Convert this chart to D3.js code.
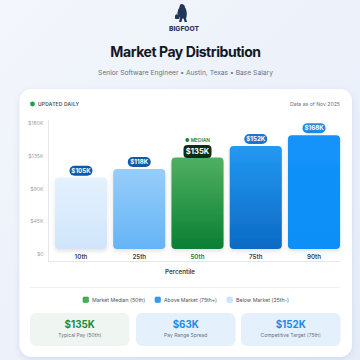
<!DOCTYPE html>
<html>
<head>
<meta charset="utf-8">
<script src="https://cdn.jsdelivr.net/npm/d3@7/dist/d3.min.js"></script>
<style>
  html, body { margin: 0; padding: 0; }
  body { width: 360px; height: 360px; overflow: hidden; font-family: Inter, "Noto Sans", sans-serif; }
</style>
</head>
<body>
<svg id="chart" width="360" height="360"></svg>
<script>
  'use strict';

  // chart data
  var percentiles = ['10th', '25th', '50th', '75th', '90th'];
  var salaries = [105, 118, 135, 152, 168];           // $K
  var yTicks = [0, 45, 90, 135, 180];
  var legendLabels = ['Market Median (50th)', 'Above Market (75th+)', 'Below Market (25th-)'];
  var cardValues = ['$135K', '$63K', '$152K'];
  var cardLabels = ['Typical Pay (50th)', 'Pay Range Spread', 'Competitive Target (75th)'];

  var svg = d3.select('#chart');
  var defs = svg.append('defs');

  // shrink/grow a text node's font so it spans the given width
  function fitWidth(sel, w) {
    sel.each(function() {
      var fs = parseFloat(this.getAttribute('font-size'));
      var len = this.getComputedTextLength();
      if (len > 0) this.setAttribute('font-size', (fs * w / len).toFixed(2));
    });
    return sel;
  }

  // page background
  var bg = defs.append('linearGradient').attr('id', 'bg').attr('x1', 0).attr('x2', 1).attr('y1', 0).attr('y2', 1);
  bg.append('stop').attr('offset', '0%').attr('stop-color', '#f3f6fc');
  bg.append('stop').attr('offset', '100%').attr('stop-color', '#e6edf8');
  svg.append('rect').attr('width', 360).attr('height', 360).attr('fill', 'url(#bg)');

  var shadow = defs.append('filter').attr('id', 'shadow').attr('x', '-10%').attr('y', '-10%').attr('width', '120%').attr('height', '120%');
  shadow.append('feDropShadow').attr('dx', 0).attr('dy', 2).attr('stdDeviation', 3).attr('flood-color', '#5b7bb0').attr('flood-opacity', 0.18);

  var barShadow = defs.append('filter').attr('id', 'barShadow').attr('x', '-20%').attr('y', '-10%').attr('width', '140%').attr('height', '130%');
  barShadow.append('feDropShadow').attr('dx', 0).attr('dy', 2).attr('stdDeviation', 2).attr('flood-color', '#000').attr('flood-opacity', 0.12);

  // bar gradients (top -> bottom)
  var barColors = [
    ['#e4f1fd', '#cfe5fb'],
    ['#97cdfa', '#64b4f6'],
    ['#4fb061', '#0a7f34'],
    ['#2399f2', '#0c6ac4'],
    ['#1493fb', '#0a8ff7']
  ];
  var pillColors = ['#0d5aa6', '#0d5aa6', '#0b2d14', '#1a76d0', '#1e8ae8'];
  barColors.forEach(function(c, i) {
    var g = defs.append('linearGradient').attr('id', 'bar' + i).attr('x1', 0).attr('x2', 0).attr('y1', 0).attr('y2', 1);
    g.append('stop').attr('offset', '0%').attr('stop-color', c[0]);
    g.append('stop').attr('offset', '100%').attr('stop-color', c[1]);
  });

  var cx = 185.5;

  // header: logo (walking bigfoot with a bag)
  var navy = '#1f3658';
  var logo = svg.append('g').attr('transform', 'translate(175,4)').attr('fill', navy);
  logo.append('path').attr('d',
    'M6.5,0 C8.5,0 10,1.5 10,3.5 C11.2,5 11.8,7.5 11.8,10 C11.8,12 11.3,13.5 11,14.5 L12,18 L9.6,18 L8.8,14.8 ' +
    'L7.4,14.6 L6.4,18 L4,18 L5,13.8 C4.2,13 3.8,12 3.6,11 L2.6,10.2 C2.4,8 3,5.5 4.4,3.6 C4.6,1.5 5.2,0 6.5,0 Z');
  logo.append('rect').attr('x', 0).attr('y', 11).attr('width', 4.4).attr('height', 4).attr('rx', 0.8);
  logo.append('path').attr('d', 'M1,11 C1,9.6 3.4,9.6 3.4,11').attr('fill', 'none').attr('stroke', navy).attr('stroke-width', 0.8);
  fitWidth(svg.append('text').attr('x', 184).attr('y', 31).attr('text-anchor', 'middle')
    .attr('font-size', 6.5).attr('font-weight', 800).attr('fill', navy).text('BIGFOOT'), 30);

  fitWidth(svg.append('text').attr('x', cx).attr('y', 56.5).attr('text-anchor', 'middle')
    .attr('font-size', 15).attr('font-weight', 700).attr('letter-spacing', -0.45).attr('fill', '#111827')
    .text('Market Pay Distribution'), 151);
  fitWidth(svg.append('text').attr('x', cx).attr('y', 74.5).attr('text-anchor', 'middle')
    .attr('font-size', 7.5).attr('fill', '#6b7280')
    .text('Senior Software Engineer \u2022 Austin, Texas \u2022 Base Salary'), 175);

  // main card
  svg.append('rect').attr('x', 19.5).attr('y', 89).attr('width', 332.5).attr('height', 268).attr('rx', 12)
    .attr('fill', '#fff').attr('filter', 'url(#shadow)');

  svg.append('circle').attr('cx', 32.5).attr('cy', 104).attr('r', 2.4).attr('fill', '#16a34a');
  fitWidth(svg.append('text').attr('x', 38).attr('y', 106.2).attr('font-size', 5.6).attr('font-weight', 600)
    .attr('letter-spacing', 0.2).attr('fill', '#4b5563').text('UPDATED DAILY'), 41);
  fitWidth(svg.append('text').attr('x', 340).attr('y', 106.2).attr('text-anchor', 'end').attr('font-size', 5.8)
    .attr('fill', '#6b7280').text('Data as of Nov 2025'), 50);

  // scales
  var x = d3.scaleBand().domain(percentiles).range([52, 343]).paddingInner(0.105).paddingOuter(0.05);
  var y = d3.scaleLinear().domain([0, 180]).range([249, 127]);
  var yLabel = d3.scaleLinear().domain([0, 180]).range([254, 123]);

  // axes
  var yAxis = svg.append('g').attr('transform', 'translate(43.5,0)')
    .call(d3.axisLeft(yLabel).tickValues(yTicks).tickSize(0).tickPadding(0)
      .tickFormat(function(d) { return d === 0 ? '$0' : '$' + d + 'K'; }));
  yAxis.select('.domain').remove();
  yAxis.selectAll('text').attr('font-size', 5.2).attr('fill', '#9ca3af').attr('font-family', 'Inter, sans-serif');

  svg.append('line').attr('x1', 48.5).attr('x2', 48.5).attr('y1', 120).attr('y2', 261).attr('stroke', '#e5e7eb').attr('stroke-width', 1);
  svg.append('line').attr('x1', 48).attr('x2', 340).attr('y1', 261.5).attr('y2', 261.5).attr('stroke', '#e5e7eb').attr('stroke-width', 1);

  var xAxis = svg.append('g').attr('transform', 'translate(0,254.5)')
    .call(d3.axisBottom(x).tickSize(0).tickPadding(0));
  xAxis.select('.domain').remove();
  xAxis.selectAll('text').attr('font-size', 6.2).attr('font-weight', 600).attr('font-family', 'Inter, sans-serif')
    .attr('fill', function(d) { return d === '50th' ? '#15803d' : '#374151'; });

  svg.append('text').attr('x', 180).attr('y', 274).attr('text-anchor', 'middle').attr('font-size', 6.2)
    .attr('font-weight', 600).attr('fill', '#374151').text('Percentile');

  // bars
  var data = percentiles.map(function(p, i) { return { p: p, v: salaries[i], i: i }; });

  svg.append('g').selectAll('rect').data(data).join('rect')
    .attr('x', function(d) { return x(d.p); })
    .attr('y', function(d) { return y(d.v); })
    .attr('width', x.bandwidth())
    .attr('height', function(d) { return y(0) - y(d.v); })
    .attr('rx', 4)
    .attr('fill', function(d) { return 'url(#bar' + d.i + ')'; })
    .attr('filter', 'url(#barShadow)');

  // value pills
  var pills = svg.append('g').selectAll('g').data(data).join('g')
    .attr('transform', function(d) {
      var off = d.p === '50th' ? 6 : 7;
      return 'translate(' + (x(d.p) + x.bandwidth() / 2) + ',' + (y(d.v) - off) + ')';
    });
  pills.append('rect')
    .attr('x', function(d) { return d.p === '50th' ? -14 : -11.5; })
    .attr('y', function(d) { return d.p === '50th' ? -6.5 : -5; })
    .attr('width', function(d) { return d.p === '50th' ? 28 : 23; })
    .attr('height', function(d) { return d.p === '50th' ? 13 : 10; })
    .attr('rx', function(d) { return d.p === '50th' ? 4 : 5; })
    .attr('fill', function(d) { return pillColors[d.i]; });
  pills.append('text').attr('text-anchor', 'middle')
    .attr('y', function(d) { return d.p === '50th' ? 2.8 : 2.2; })
    .attr('font-size', function(d) { return d.p === '50th' ? 7.6 : 6.2; })
    .attr('font-weight', 700).attr('fill', '#fff')
    .text(function(d) { return '$' + d.v + 'K'; });

  var med = data[2];
  svg.append('text').attr('x', x(med.p) + x.bandwidth() / 2).attr('y', y(med.v) - 15.5)
    .attr('text-anchor', 'middle').attr('font-size', 4.8).attr('font-weight', 600).attr('fill', '#15803d')
    .text('\u25CF MEDIAN');

  // separator + legend
  svg.append('line').attr('x1', 30).attr('x2', 340).attr('y1', 287.5).attr('y2', 287.5).attr('stroke', '#eef0f3');

  var legendSwatch = [['#4caf50', '#1b8a3a'], ['#2aa0f8', '#1c86e6'], ['#cde6fd', '#b9dcfb']];
  var legendX = [83, 155, 227];
  var leg = svg.append('g').selectAll('g').data(legendLabels).join('g')
    .attr('transform', function(d, i) { return 'translate(' + legendX[i] + ',297)'; });
  leg.append('rect').attr('width', 5.5).attr('height', 5.5).attr('rx', 1)
    .attr('fill', function(d, i) { return legendSwatch[i][0]; })
    .attr('stroke', function(d, i) { return legendSwatch[i][1]; }).attr('stroke-width', 0.5);
  fitWidth(leg.append('text').attr('x', 9).attr('y', 5).attr('font-size', 5.4).attr('fill', '#4b5563')
    .text(function(d) { return d; }), 53);

  // summary cards
  var cardX = [30, 136, 241];
  var cardBg = ['#eff5f0', '#e4f1fd', '#e4f1fd'];
  var cardColor = ['#1b8a3a', '#1e88e5', '#1e88e5'];
  var cards = svg.append('g').selectAll('g').data(cardValues).join('g')
    .attr('transform', function(d, i) { return 'translate(' + cardX[i] + ',313)'; });
  cards.append('rect').attr('width', 99.5).attr('height', 33).attr('rx', 6)
    .attr('fill', function(d, i) { return cardBg[i]; });
  cards.append('text').attr('x', 49.75).attr('y', 15).attr('text-anchor', 'middle')
    .attr('font-size', 9.8).attr('font-weight', 700)
    .attr('fill', function(d, i) { return cardColor[i]; }).text(function(d) { return d; });
  cards.append('text').attr('x', 49.75).attr('y', 23.8).attr('text-anchor', 'middle')
    .attr('font-size', 5).attr('fill', '#6b7280').text(function(d, i) { return cardLabels[i]; });
</script>
</body>
</html>
